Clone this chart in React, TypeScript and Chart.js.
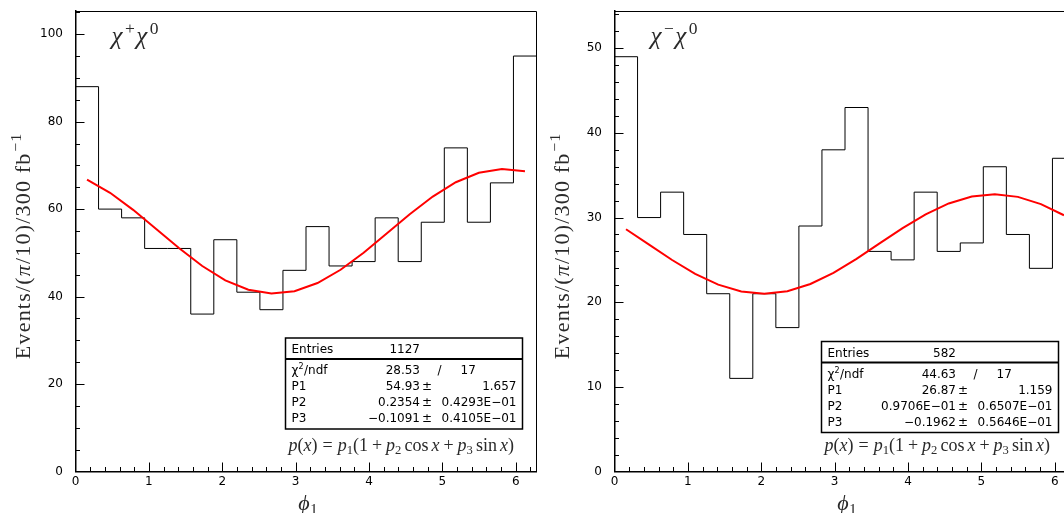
import React, { useEffect, useRef } from "react";
import { Chart, registerables } from "chart.js";

Chart.register(...registerables);

// φ1 is histogrammed in 20 bins of width π/10 over [0, 2π]
const PHI_MAX = 2 * Math.PI;
const BIN_WIDTH = Math.PI / 10;

// Event counts per bin
const PLUS_COUNTS = [88, 60, 58, 51, 51, 36, 53, 41, 37, 46, 56, 47, 48, 58, 48, 57, 74, 57, 66, 95];
const MINUS_COUNTS = [49, 30, 33, 28, 21, 11, 21, 17, 29, 38, 43, 26, 25, 33, 26, 27, 36, 28, 24, 37];

// Fit parameters p1, p2, p3 of p(x) = p1 (1 + p2 cos x + p3 sin x)
const PLUS_FIT = [54.93, 0.2354, -0.1091];
const MINUS_FIT = [26.87, 0.09706, -0.1962];

// Axis ranges and ticks
const X_TICKS = [0, 1, 2, 3, 4, 5, 6];
const X_MINOR_STEP = 0.2;
const PLUS_Y_MAX = 105.3;
const PLUS_Y_TICKS = [0, 20, 40, 60, 80, 100];
const PLUS_Y_MINOR_STEP = 5;
const MINUS_Y_MAX = 54.4;
const MINUS_Y_TICKS = [0, 10, 20, 30, 40, 50];
const MINUS_Y_MINOR_STEP = 2;

// Statistics box contents
const PLUS_ENTRIES = "1127";
const PLUS_CHI2 = ["28.53", "17"];
const PLUS_PARAMS = [
  ["P1", "54.93", "1.657"],
  ["P2", "0.2354", "0.4293E\u221201"],
  ["P3", "\u22120.1091", "0.4105E\u221201"],
];
const MINUS_ENTRIES = "582";
const MINUS_CHI2 = ["44.63", "17"];
const MINUS_PARAMS = [
  ["P1", "26.87", "1.159"],
  ["P2", "0.9706E\u221201", "0.6507E\u221201"],
  ["P3", "\u22120.1962", "0.5646E\u221201"],
];

const PANEL_W = 539;
const PANEL_H = 513;

const SERIF = '"Liberation Serif", "DejaVu Serif", serif';
const SANS = '"DejaVu Sans", sans-serif';
const MATH_COLOR = "#2a2a2a";

type Run = { t: string; it?: boolean; sub?: boolean; sup?: boolean; gap?: number };

const Y_TITLE_RUNS: Run[] = [
  { t: "Events/(" },
  { t: "\u03c0", it: true },
  { t: "/10)/300" },
  { t: "fb", gap: 0.3 },
  { t: "\u22121", sup: true, gap: 0.05 },
];
const X_TITLE_RUNS: Run[] = [
  { t: "\u03d5", it: true },
  { t: "1", sub: true, gap: 0.02 },
];
const FORMULA_RUNS: Run[] = [
  { t: "p", it: true },
  { t: "(" },
  { t: "x", it: true },
  { t: ")" },
  { t: "=", gap: 0.28 },
  { t: "p", it: true, gap: 0.28 },
  { t: "1", sub: true },
  { t: "(1" },
  { t: "+", gap: 0.22 },
  { t: "p", it: true, gap: 0.22 },
  { t: "2", sub: true },
  { t: "cos", gap: 0.17 },
  { t: "x", it: true, gap: 0.17 },
  { t: "+", gap: 0.22 },
  { t: "p", it: true, gap: 0.22 },
  { t: "3", sub: true },
  { t: "sin", gap: 0.17 },
  { t: "x", it: true, gap: 0.17 },
  { t: ")" },
];
const PLUS_LABEL_RUNS: Run[] = [
  { t: "\u03c7", it: true },
  { t: "+", sup: true, gap: 0.1 },
  { t: "\u03c7", it: true, gap: 0.06 },
  { t: "0", sup: true, gap: 0.1 },
];
const MINUS_LABEL_RUNS: Run[] = [
  { t: "\u03c7", it: true },
  { t: "\u2212", sup: true, gap: 0.1 },
  { t: "\u03c7", it: true, gap: 0.06 },
  { t: "0", sup: true, gap: 0.1 },
];

function runFont(r: Run, size: number) {
  const s = r.sub || r.sup ? size * 0.7 : size;
  return `${r.it ? "italic " : ""}${s}px ${SERIF}`;
}

function richWidth(ctx: CanvasRenderingContext2D, runs: Run[], size: number, track: number) {
  let w = 0;
  for (const r of runs) {
    ctx.font = runFont(r, size);
    w += (r.gap || 0) * size;
    for (const ch of r.t) w += ctx.measureText(ch).width + track;
  }
  return w - track;
}

function drawRich(
  ctx: CanvasRenderingContext2D,
  runs: Run[],
  x: number,
  y: number,
  size: number,
  align: "left" | "center",
  track = 0
) {
  let cx = align === "center" ? x - richWidth(ctx, runs, size, track) / 2 : x;
  ctx.textAlign = "left";
  ctx.textBaseline = "alphabetic";
  for (const r of runs) {
    ctx.font = runFont(r, size);
    cx += (r.gap || 0) * size;
    const dy = r.sub ? 0.2 * size : r.sup ? -0.4 * size : 0;
    for (const ch of r.t) {
      ctx.fillText(ch, cx, y + dy);
      cx += ctx.measureText(ch).width + track;
    }
  }
}

type PanelSpec = {
  counts: number[];
  fit: number[];
  yMax: number;
  yTicks: number[];
  yMinorStep: number;
  labelRuns: Run[];
  entries: string;
  chi2: string[];
  params: string[][];
  boxLeft: number;
  boxTop: number;
};

const PLUS_PANEL: PanelSpec = {
  counts: PLUS_COUNTS,
  fit: PLUS_FIT,
  yMax: PLUS_Y_MAX,
  yTicks: PLUS_Y_TICKS,
  yMinorStep: PLUS_Y_MINOR_STEP,
  labelRuns: PLUS_LABEL_RUNS,
  entries: PLUS_ENTRIES,
  chi2: PLUS_CHI2,
  params: PLUS_PARAMS,
  boxLeft: 285.5,
  boxTop: 338,
};

const MINUS_PANEL: PanelSpec = {
  counts: MINUS_COUNTS,
  fit: MINUS_FIT,
  yMax: MINUS_Y_MAX,
  yTicks: MINUS_Y_TICKS,
  yMinorStep: MINUS_Y_MINOR_STEP,
  labelRuns: MINUS_LABEL_RUNS,
  entries: MINUS_ENTRIES,
  chi2: MINUS_CHI2,
  params: MINUS_PARAMS,
  boxLeft: 282.5,
  boxTop: 341.5,
};

function drawStatsBox(ctx: CanvasRenderingContext2D, spec: PanelSpec) {
  const L = spec.boxLeft;
  const T = spec.boxTop;
  const W = 237;
  const H = 91;
  ctx.fillStyle = "#fff";
  ctx.fillRect(L, T, W, H);
  ctx.strokeStyle = "#000";
  ctx.lineWidth = 1.5;
  ctx.strokeRect(L, T, W, H);
  ctx.lineWidth = 2;
  ctx.beginPath();
  ctx.moveTo(L, T + 21);
  ctx.lineTo(L + W, T + 21);
  ctx.stroke();

  const font = `12px ${SANS}`;
  const labelX = L + 6;
  const valueR = L + 134.5;
  const errR = L + W - 6;
  ctx.fillStyle = "#000";
  ctx.font = font;
  ctx.textBaseline = "middle";

  // Entries
  ctx.textAlign = "left";
  ctx.fillText("Entries", labelX, T + 12);
  ctx.textAlign = "right";
  ctx.fillText(spec.entries, valueR, T + 12);

  // chi^2 / ndf
  const yc = T + 33;
  ctx.textAlign = "left";
  ctx.fillText("\u03c7", labelX, yc);
  let cx = labelX + ctx.measureText("\u03c7").width;
  ctx.font = `8px ${SANS}`;
  ctx.fillText("2", cx, yc - 4);
  cx += ctx.measureText("2").width + 0.5;
  ctx.font = font;
  ctx.fillText("/ndf", cx, yc);
  ctx.textAlign = "right";
  ctx.fillText(spec.chi2[0], valueR, yc);
  ctx.textAlign = "left";
  ctx.fillText("/", L + 152, yc);
  ctx.fillText(spec.chi2[1], L + 175, yc);

  // fit parameters
  spec.params.forEach((row, i) => {
    const y = T + 49 + i * 16;
    ctx.textAlign = "left";
    ctx.fillText(row[0], labelX, y);
    ctx.textAlign = "right";
    ctx.fillText(row[1], valueR, y);
    ctx.textAlign = "left";
    ctx.fillText("\u00b1", valueR + 2, y);
    ctx.textAlign = "right";
    ctx.fillText(row[2], errR, y);
  });
}

function decorations(spec: PanelSpec) {
  return {
    id: "panelDecorations",
    afterDraw(chart: any) {
      const ctx: CanvasRenderingContext2D = chart.ctx;
      const { left, right, top, bottom } = chart.chartArea;
      const xs = chart.scales.x;
      const ys = chart.scales.y;
      ctx.save();

      // frame (top and right)
      ctx.strokeStyle = "#000";
      ctx.lineWidth = 1;
      ctx.beginPath();
      const ty = Math.round(top) + 0.5;
      const rx = Math.round(right) - 0.5;
      ctx.moveTo(left, ty);
      ctx.lineTo(rx, ty);
      ctx.lineTo(rx, bottom);
      ctx.stroke();

      // inward major and minor ticks
      ctx.beginPath();
      const nX = Math.floor(PHI_MAX / X_MINOR_STEP + 1e-9);
      for (let k = 1; k <= nX; k++) {
        const v = k * X_MINOR_STEP;
        const major = Math.abs(v - Math.round(v)) < 1e-6;
        const px = Math.round(xs.getPixelForValue(v)) + 0.5;
        ctx.moveTo(px, bottom);
        ctx.lineTo(px, bottom - (major ? 9 : 4.5));
      }
      const majorStep = spec.yTicks[1] - spec.yTicks[0];
      const nY = Math.floor(spec.yMax / spec.yMinorStep + 1e-9);
      for (let k = 1; k <= nY; k++) {
        const v = k * spec.yMinorStep;
        const major = Math.abs(v / majorStep - Math.round(v / majorStep)) < 1e-6;
        const py = Math.round(ys.getPixelForValue(v)) + 0.5;
        ctx.moveTo(left, py);
        ctx.lineTo(left + (major ? 9 : 4.5), py);
      }
      ctx.stroke();

      // axis titles
      ctx.fillStyle = MATH_COLOR;
      drawRich(ctx, X_TITLE_RUNS, left + 232.5, 509.5, 22, "center");
      ctx.save();
      ctx.translate(30, 246.5);
      ctx.rotate(-Math.PI / 2);
      drawRich(ctx, Y_TITLE_RUNS, 0, 0, 22, "center", 1.2);
      ctx.restore();

      // process label
      drawRich(ctx, spec.labelRuns, left + 36, 44, 25, "left");

      // statistics box and fit function
      drawStatsBox(ctx, spec);
      ctx.fillStyle = MATH_COLOR;
      drawRich(ctx, FORMULA_RUNS, spec.boxLeft + 3, 450.5, 18, "left");

      ctx.restore();
    },
  };
}

function makeChart(canvas: HTMLCanvasElement, spec: PanelSpec) {
  const hist = spec.counts.map((c, i) => ({ x: i * BIN_WIDTH, y: c }));
  hist.push({ x: PHI_MAX, y: spec.counts[spec.counts.length - 1] });
  const [p1, p2, p3] = spec.fit;
  const fitPts = spec.counts.map((_, i) => {
    const x = (i + 0.5) * BIN_WIDTH;
    return { x, y: p1 * (1 + p2 * Math.cos(x) + p3 * Math.sin(x)) };
  });
  const tickFont = { family: "DejaVu Sans", size: 12 };

  return new Chart(canvas, {
    type: "line",
    data: {
      datasets: [
        {
          data: fitPts,
          borderColor: "#ff0000",
          borderWidth: 2,
          pointRadius: 0,
          tension: 0,
          order: 1,
        },
        {
          data: hist,
          borderColor: "#000",
          borderWidth: 1,
          pointRadius: 0,
          stepped: "before",
          order: 2,
        },
      ],
    },
    options: {
      responsive: false,
      maintainAspectRatio: false,
      animation: false,
      devicePixelRatio: 1,
      events: [],
      layout: { padding: { top: 11, right: 2.5, left: 0, bottom: 0 } },
      plugins: { legend: { display: false }, tooltip: { enabled: false } },
      scales: {
        x: {
          type: "linear",
          min: 0,
          max: PHI_MAX,
          grid: { display: false, drawTicks: false },
          border: { display: true, color: "#000", width: 1.5 },
          ticks: { font: tickFont, color: "#000", padding: 3, maxRotation: 0, autoSkip: false },
          afterBuildTicks: (s: any) => {
            s.ticks = X_TICKS.map((v) => ({ value: v }));
          },
          afterFit: (s: any) => {
            s.height = 41.5;
            s.paddingLeft = 0;
            s.paddingRight = 0;
          },
        },
        y: {
          type: "linear",
          min: 0,
          max: spec.yMax,
          grid: { display: false, drawTicks: false },
          border: { display: true, color: "#000", width: 1.5 },
          ticks: { font: tickFont, color: "#000", padding: 12.5, autoSkip: false },
          afterBuildTicks: (s: any) => {
            s.ticks = spec.yTicks.map((v) => ({ value: v }));
          },
          afterFit: (s: any) => {
            s.width = 75.5;
            s.paddingTop = 0;
            s.paddingBottom = 0;
          },
        },
      },
    },
    plugins: [decorations(spec)],
  } as any);
}

function Panel({ spec, left }: { spec: PanelSpec; left: number }) {
  const ref = useRef<HTMLCanvasElement>(null);
  useEffect(() => {
    const chart = makeChart(ref.current!, spec);
    return () => chart.destroy();
  }, [spec]);
  return (
    <canvas
      ref={ref}
      width={PANEL_W}
      height={PANEL_H}
      style={{ position: "absolute", left, top: 0, width: PANEL_W, height: PANEL_H }}
    />
  );
}

export default function App() {
  return (
    <div
      style={{
        position: "fixed",
        left: 0,
        top: 0,
        width: 1064,
        height: 513,
        overflow: "hidden",
        background: "#fff",
      }}
    >
      <Panel spec={PLUS_PANEL} left={0} />
      <Panel spec={MINUS_PANEL} left={539} />
    </div>
  );
}
